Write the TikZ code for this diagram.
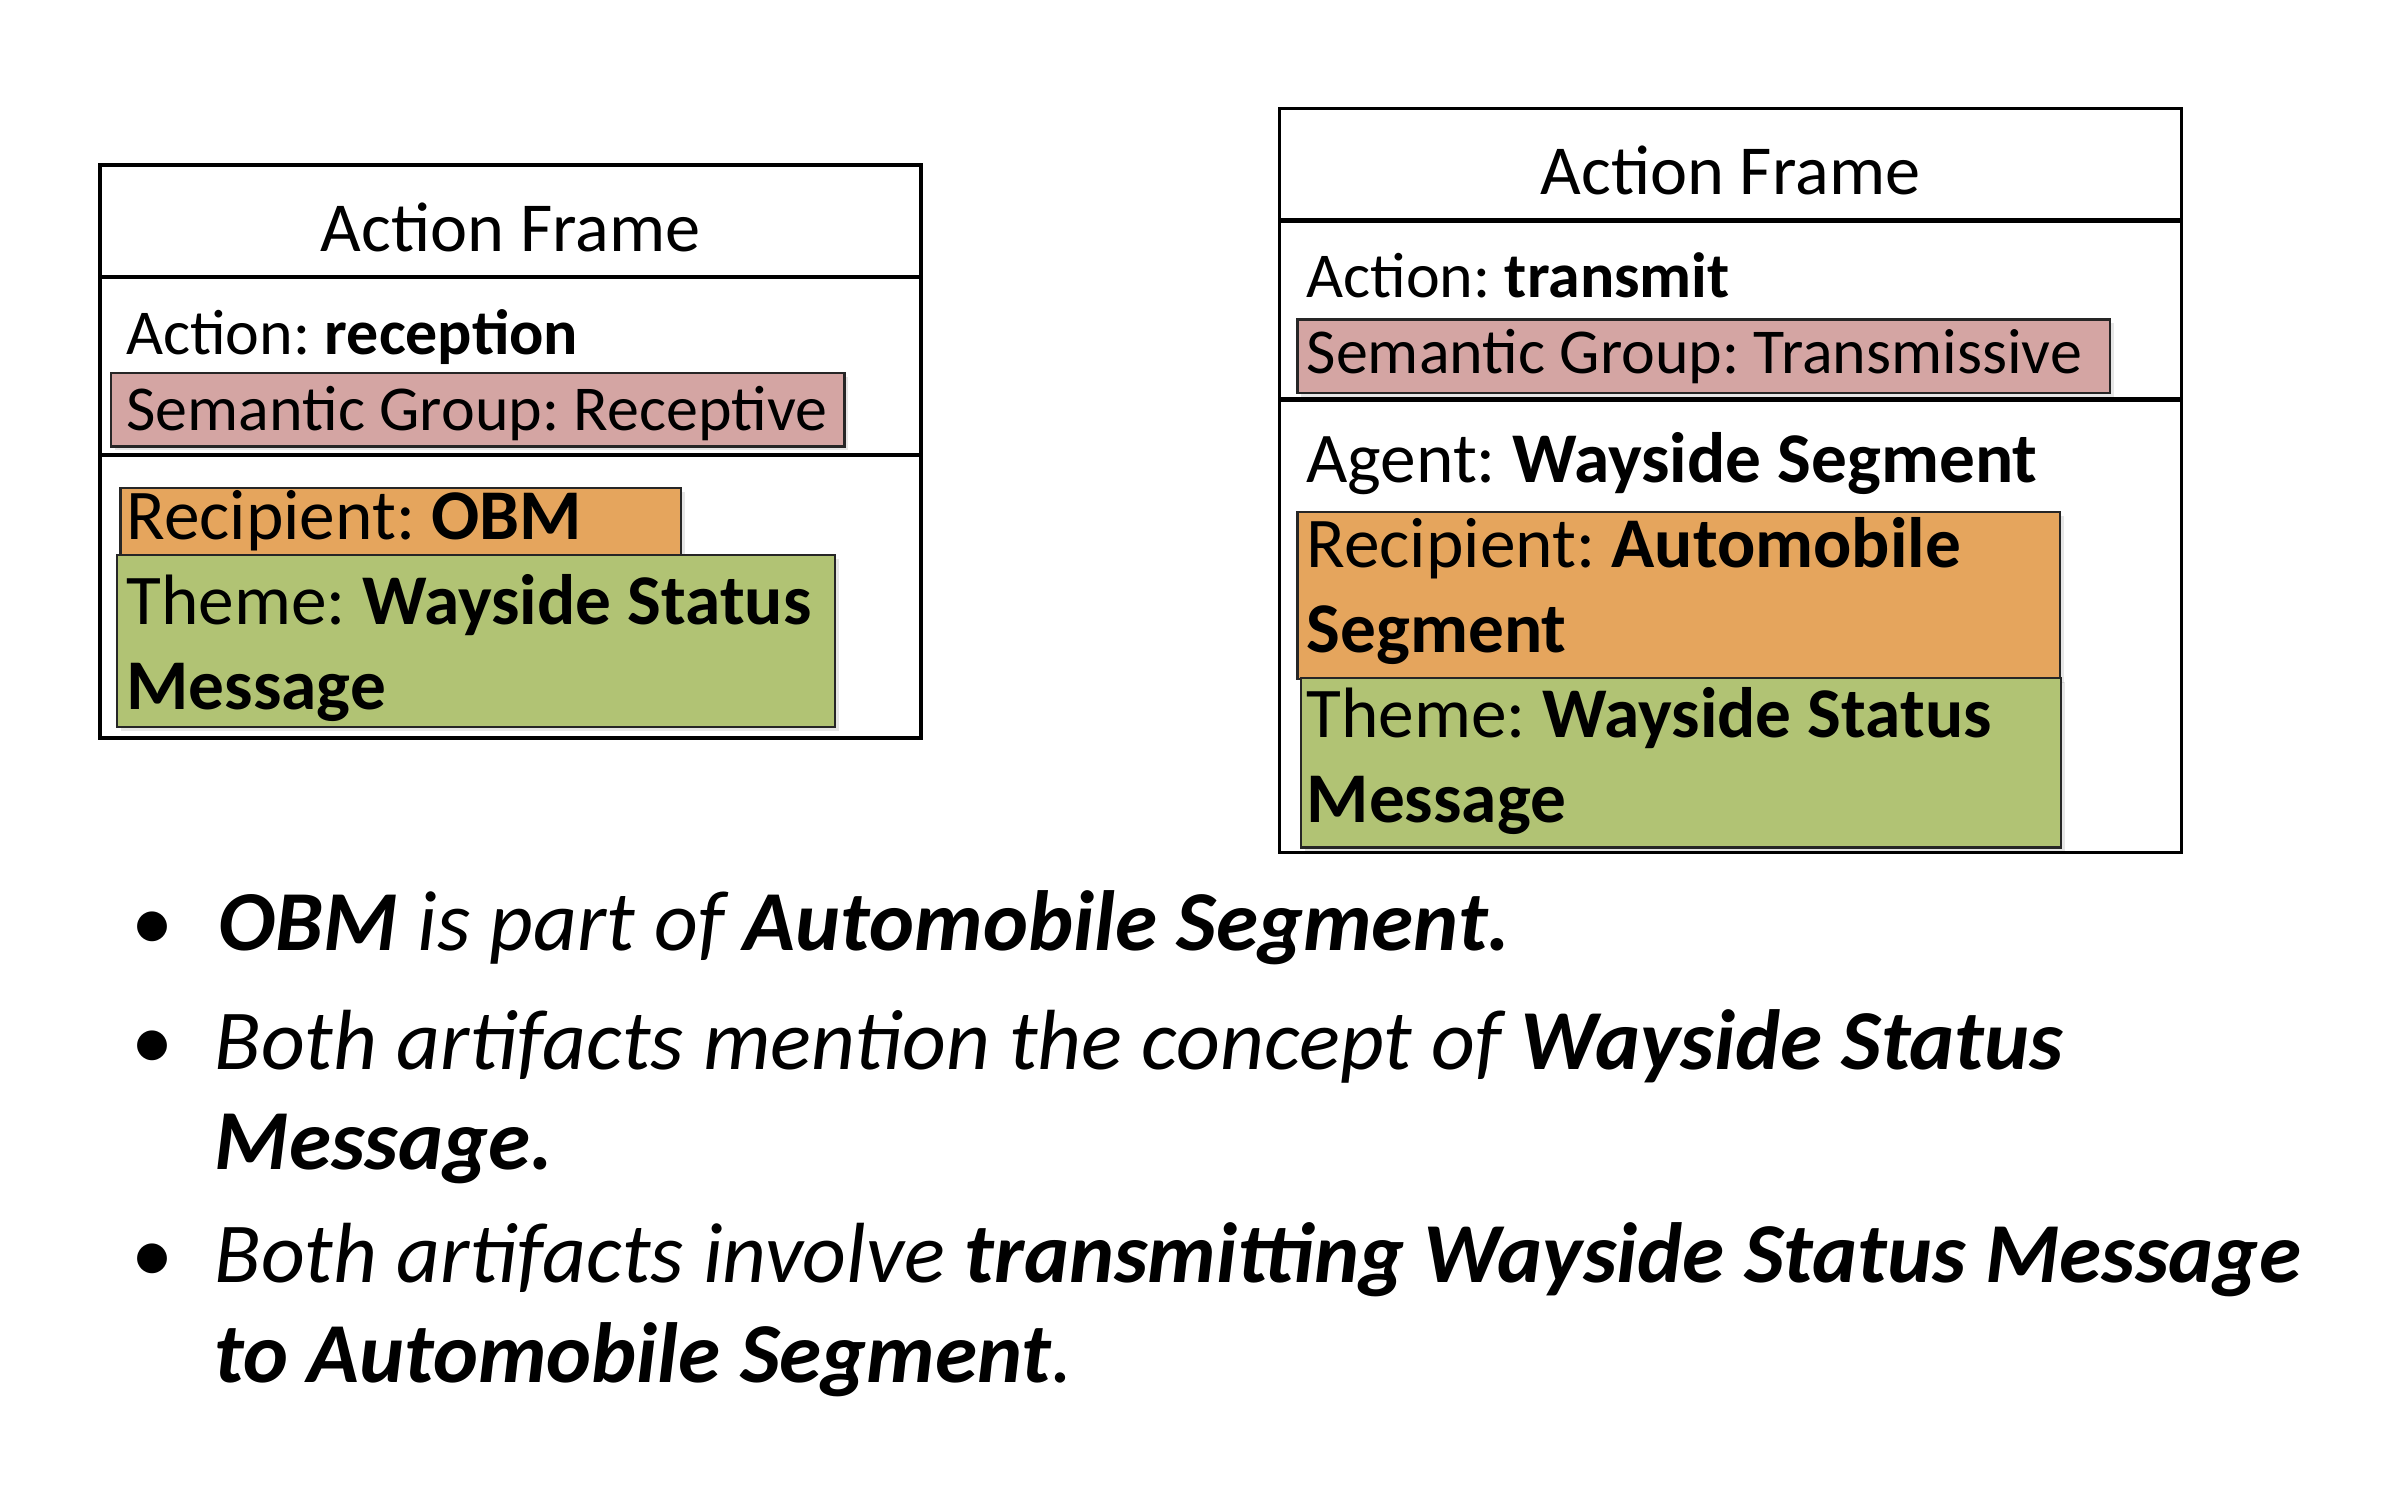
\documentclass[tikz,border=0pt]{standalone}
\usepackage{fontspec}
\setmainfont{Carlito}
\usepackage{tikz}
\usetikzlibrary{positioning,shadows}

\definecolor{semgroup}{RGB}{212,165,163}
\definecolor{recip}{RGB}{229,165,93}
\definecolor{themefill}{RGB}{177,195,116}

\frenchspacing
\hyphenpenalty=10000
\exhyphenpenalty=10000

\begin{document}
\begin{tikzpicture}[execute at begin node={\spaceskip=0pt\xspaceskip=0pt}]
	  \tikzstyle{framepart}=[rectangle,draw=black,line width=0.9pt,inner sep=0pt,outer sep=0pt]
	  \tikzstyle{framehead}=[framepart,font=\fontsize{20}{24}\selectfont,text height=0.6cm,text depth=0cm]
	  \tikzstyle{txt}=[anchor=base west,inner sep=0pt,font=\fontsize{18.2}{22}\selectfont]
	  \tikzstyle{rolebox}=[rectangle,draw=black!85,line width=0.6pt,anchor=north west,inner ysep=0pt,
				  align=left,font=\fontsize{20.3}{24.2}\selectfont,
				  drop shadow={shadow xshift=0.4mm,shadow yshift=-0.4mm,opacity=0.2}]
	  \tikzstyle{dot}=[anchor=base,inner sep=0pt,font=\fontsize{24}{28.7}\selectfont]
	  \tikzstyle{item}=[anchor=base west,inner sep=0pt,align=left,text width=21.6cm,
				  font=\fontsize{24.3}{28.7}\selectfont\itshape]

		\useasboundingbox (0,0) rectangle (24,-15);

		% frame of the first artifact
		\node[framehead,minimum width=8.21cm,minimum height=1.12cm,anchor=north] (ft1) at (5.105,-1.65) {Action Frame};
		\node[framepart,minimum width=8.21cm,minimum height=1.78cm,below=0pt of ft1] (fa1) {};
		\node[framepart,minimum width=8.21cm,minimum height=2.83cm,below=0pt of fa1] (fr1) {};
		\draw[line width=1.3pt] (fa1.north west) -- (fa1.north east);
		\draw[line width=1.3pt] (fr1.north west) -- (fr1.north east);

		\node[txt] (a1) at (1.255,-3.54) {Action: \textbf{reception}};
		\node[rolebox,fill=semgroup,font=\fontsize{18.2}{22}\selectfont,text width=7.026cm,inner xsep=0.153cm,
			text height=0.572cm,text depth=0.162cm] (s1) at (1.102,-3.72) {\mbox{Semantic Group: Receptive}};
		\node[rolebox,fill=recip,text width=5.48cm,inner xsep=0.061cm,
			text height=0.52cm,text depth=0.153cm] (r1) at (1.194,-4.867) {Recipient: \textbf{OBM}};
		\node[rolebox,fill=themefill,text width=6.995cm,inner xsep=0.092cm,
			text height=0.695cm,text depth=1.02cm] (t1) at (1.163,-5.54) {\mbox{Theme: \textbf{Wayside Status}}\\\textbf{Message}};

		% frame of the second artifact
		\node[framehead,minimum width=9.015cm,minimum height=1.117cm,anchor=north] (ft2) at (17.3035,-1.087) {Action Frame};
		\node[framepart,minimum width=9.015cm,minimum height=1.791cm,below=0pt of ft2] (fa2) {};
		\node[framepart,minimum width=9.015cm,minimum height=4.53cm,below=0pt of fa2] (fr2) {};
		\draw[line width=1.3pt] (fa2.north west) -- (fa2.north east);
		\draw[line width=1.3pt] (fr2.north west) -- (fr2.north east);

		\node[txt] (a2) at (13.056,-2.975) {Action: \textbf{transmit}};
		\node[rolebox,fill=semgroup,font=\fontsize{18.2}{22}\selectfont,text width=7.944cm,inner xsep=0.092cm,
			text height=0.542cm,text depth=0.192cm] (s2) at (12.964,-3.184) {Semantic Group: Transmissive};
		\node[txt,font=\fontsize{20.3}{24.2}\selectfont] (g2) at (13.056,-4.82) {Agent: \textbf{Wayside Segment}};
		\node[rolebox,fill=recip,text width=7.439cm,inner xsep=0.092cm,
			text height=0.551cm,text depth=1.117cm] (r2) at (12.964,-5.112) {Recipient: \textbf{Automobile}\\\textbf{Segment}};
		\node[rolebox,fill=themefill,text width=7.485cm,inner xsep=0.061cm,
			text height=0.597cm,text depth=1.102cm] (t2) at (12.995,-6.765) {Theme: \textbf{Wayside Status}\\\textbf{Message}};

		% findings
		\node[dot] (d1) at (1.53,-9.50) {\textbullet};
		\node[item] (i1) at (2.18,-9.50) {\textbf{OBM} is part of \textbf{Automobile Segment.}};
		\node[dot] (d2) at (1.53,-10.69) {\textbullet};
		\node[item] (i2) at (2.14,-10.69) {Both artifacts mention the concept of \textbf{Wayside Status}\\\textbf{Message.}};
		\node[dot] (d3) at (1.53,-12.82) {\textbullet};
		\node[item] (i3) at (2.14,-12.82) {Both artifacts involve \textbf{transmitting Wayside Status Message}\\\textbf{to Automobile Segment}.};

\end{tikzpicture}
\end{document}
